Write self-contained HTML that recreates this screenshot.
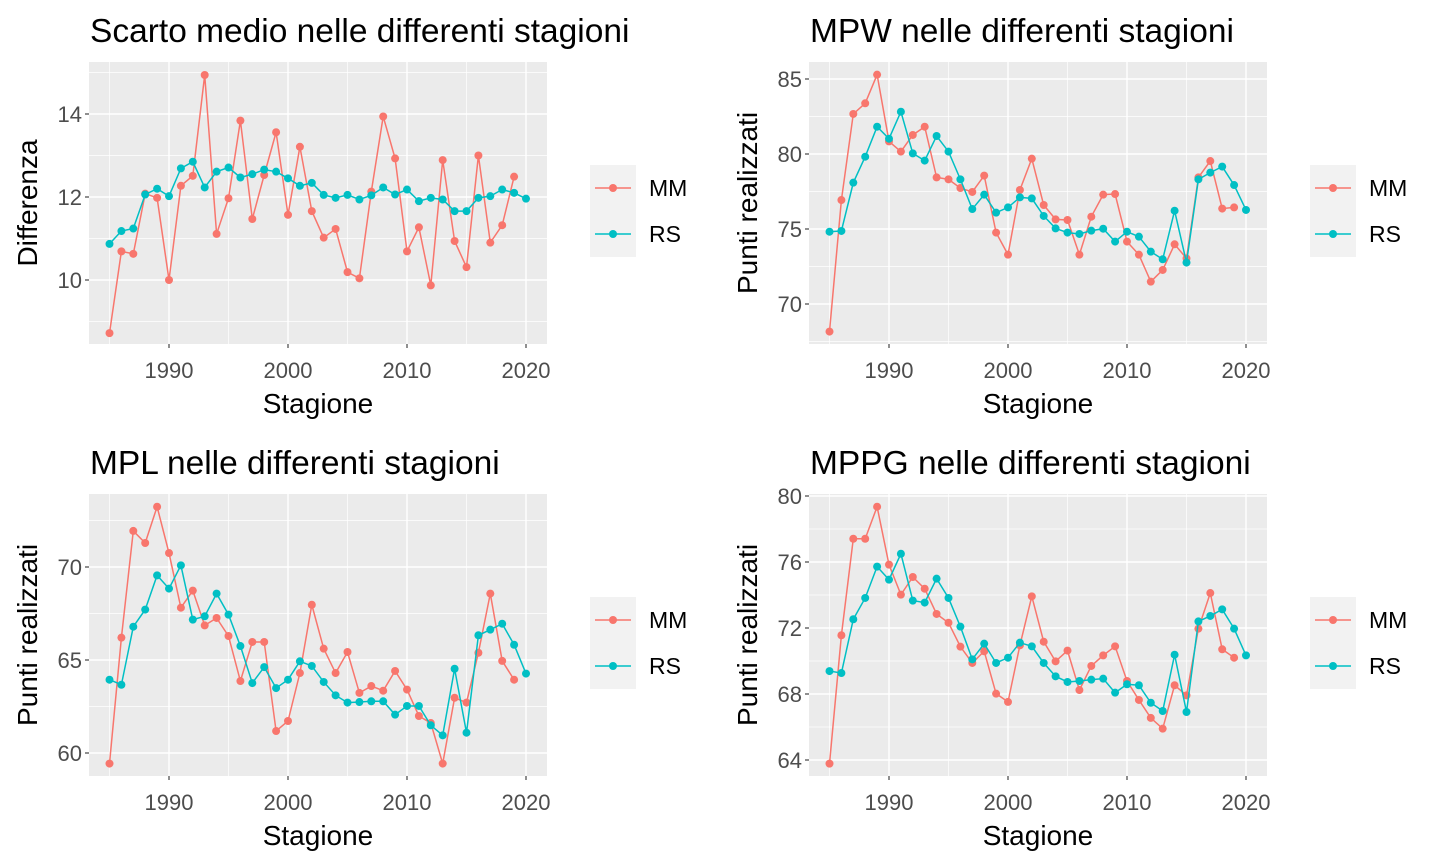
<!DOCTYPE html>
<html><head><meta charset="utf-8"><style>
html,body{margin:0;padding:0;background:#fff;}
svg{display:block;font-family:"Liberation Sans",sans-serif;}
</style></head><body>
<svg id="chart" width="1440" height="864" viewBox="0 0 1440 864"></svg>
<script>
const years = [];
for (let y = 1985; y <= 2020; y++) years.push(y);
const xTicks = [1990, 2000, 2010, 2020];
const seriesNames = ["MM", "RS"];

const scartoMM = [8.72,10.69,10.63,12.08,11.98,10.0,12.27,12.51,14.94,11.11,11.97,13.84,11.47,12.53,13.56,11.57,13.21,11.66,11.02,11.23,10.19,10.04,12.13,13.94,12.93,10.69,11.27,9.87,12.89,10.94,10.31,13.0,10.9,11.32,12.49];
const scartoRS = [10.87,11.18,11.24,12.06,12.2,12.02,12.69,12.85,12.23,12.61,12.71,12.47,12.55,12.66,12.61,12.45,12.27,12.34,12.05,11.98,12.05,11.94,12.04,12.23,12.06,12.18,11.9,11.98,11.94,11.66,11.66,11.98,12.02,12.18,12.1,11.96];
const scartoTicks = [10, 12, 14];

const mpwMM = [68.16,76.93,82.67,83.38,85.29,80.84,80.16,81.27,81.82,78.44,78.31,77.73,77.47,78.56,74.76,73.29,77.6,79.69,76.6,75.64,75.6,73.29,75.82,77.29,77.33,74.16,73.29,71.49,72.27,73.98,73.04,78.44,79.53,76.36,76.44];
const mpwRS = [74.82,74.87,78.09,79.82,81.82,81.02,82.82,80.04,79.56,81.2,80.16,78.31,76.33,77.29,76.09,76.44,77.11,77.04,75.87,75.04,74.76,74.67,74.89,75.02,74.16,74.82,74.49,73.49,72.98,76.22,72.76,78.31,78.76,79.16,77.93,76.27];
const mpwTicks = [70, 75, 80, 85];

const mplMM = [59.43,66.2,71.94,71.29,73.24,70.75,67.81,68.73,66.86,67.26,66.29,63.87,65.97,65.97,61.18,61.72,64.3,67.97,65.61,64.3,65.43,63.23,63.6,63.35,64.41,63.41,61.99,61.61,59.43,62.97,62.71,65.39,68.57,64.95,63.94];
const mplRS = [63.94,63.67,66.79,67.71,69.55,68.84,70.09,67.17,67.35,68.57,67.44,65.75,63.76,64.62,63.49,63.94,64.93,64.68,63.82,63.1,62.71,62.74,62.78,62.78,62.06,62.53,62.53,61.49,60.95,64.53,61.09,66.33,66.63,66.95,65.82,64.27];
const mplTicks = [60, 65, 70];

const mppgMM = [63.78,71.56,77.41,77.41,79.35,75.84,74.02,75.09,74.38,72.85,72.32,70.87,69.88,70.59,68.02,67.52,70.95,73.92,71.17,69.98,70.63,68.24,69.7,70.34,70.89,68.79,67.64,66.55,65.9,68.53,67.92,71.96,74.12,70.71,70.2];
const mppgRS = [69.39,69.27,72.53,73.82,75.72,74.93,76.5,73.66,73.54,74.99,73.82,72.08,70.1,71.05,69.88,70.2,71.11,70.89,69.88,69.07,68.73,68.79,68.87,68.93,68.08,68.59,68.53,67.47,66.97,70.38,66.91,72.4,72.73,73.13,71.96,70.34];
const mppgTicks = [64, 68, 72, 76, 80];

const NS = "http://www.w3.org/2000/svg";
const svg = document.getElementById("chart");
const COLORS = ["#F8766D", "#00BFC4"];
function mk(tag, attrs, parent, txt) {
  const e = document.createElementNS(NS, tag);
  for (const k in attrs) e.setAttribute(k, attrs[k]);
  if (txt !== undefined) e.textContent = txt;
  (parent || svg).appendChild(e);
  return e;
}

function panel(cfg) {
  const g = mk("g", {});
  
  
  const X = v => cfg.x0 + (v - 1990) * 11.9;
  const Y = v => cfg.yRef - (v - cfg.vRef) * cfg.k;
  const L = cfg.x0 - 80, R = L + 458, T = cfg.top, B = cfg.top + 282;
  const bg = mk("rect", {x: L, y: T, width: R - L, height: B - T, fill: "#EBEBEB"}, g);
  
  
  const step = cfg.ticks[1] - cfg.ticks[0];
  const yMinorList = [];
  for (let i = -1; i < cfg.ticks.length; i++) yMinorList.push(cfg.ticks[0] + step * (i + 0.5));
  yMinorList.forEach(v => { const p = Y(v); if (p > T && p < B) mk("line", {x1: L, x2: R, y1: p, y2: p, stroke: "#fff", "stroke-width": 0.7}, g); });
  [1985, 1995, 2005, 2015].forEach(v => mk("line", {x1: X(v), x2: X(v), y1: T, y2: B, stroke: "#fff", "stroke-width": 0.7}, g));
  cfg.ticks.forEach(v => {
    const p = Y(v);
    mk("line", {x1: L, x2: R, y1: p, y2: p, stroke: "#fff", "stroke-width": 1.4}, g);
    mk("line", {x1: L - 4, x2: L, y1: p, y2: p, stroke: "#333", "stroke-width": 1.1}, g);
    const t = mk("text", {x: L - 7, y: p + 8, "text-anchor": "end", "font-size": 22, fill: "#4D4D4D"}, g, v);
    
    
  });
  xTicks.forEach(v => {
    const p = X(v);
    mk("line", {x1: p, x2: p, y1: T, y2: B, stroke: "#fff", "stroke-width": 1.4}, g);
    mk("line", {x1: p, x2: p, y1: B, y2: B + 4, stroke: "#333", "stroke-width": 1.1}, g);
    const t = mk("text", {x: p, y: B + 34, "text-anchor": "middle", "font-size": 22, fill: "#4D4D4D"}, g, v);
    
    
  });
  [cfg.mm, cfg.rs].forEach((arr, si) => {
    const pts = arr.map((v, i) => X(years[i]) + "," + Y(v)).join(" ");
    const pl = mk("polyline", {points: pts, fill: "none", stroke: COLORS[si], "stroke-width": 1.5}, g);
    
    
    arr.forEach((v, i) => {
      const c = mk("circle", {cx: X(years[i]), cy: Y(v), r: 4, fill: COLORS[si]}, g);
      
      
    });
  });
  const title = mk("text", {x: L + 1, y: T - 20, "font-size": 33.5, fill: "#000"}, g, cfg.title);
  
  
  const xt = mk("text", {x: (L + R) / 2, y: B + 69, "text-anchor": "middle", "font-size": 28, fill: "#000"}, g, "Stagione");
  
  
  const yc = (T + B) / 2;
  const yt = mk("text", {x: 0, y: 0, transform: `translate(${L - 52},${yc}) rotate(-90)`, "text-anchor": "middle", "font-size": 28, fill: "#000"}, g, cfg.ytitle);
  
  
  const lg = mk("g", {}, g);
  
  
  const lx = L + 501, ly = T + 103;
  mk("rect", {x: lx, y: ly, width: 46, height: 92, fill: "#F2F2F2"}, lg);
  seriesNames.forEach((n, i) => {
    const cy = ly + 23 + i * 46;
    const e = mk("g", {}, lg);
    
    
    mk("line", {x1: lx + 5, x2: lx + 41, y1: cy, y2: cy, stroke: COLORS[i], "stroke-width": 1.5}, e);
    mk("circle", {cx: lx + 23, cy: cy, r: 4, fill: COLORS[i]}, e);
    mk("text", {x: lx + 59, y: cy + 8, "font-size": 23, fill: "#000"}, e, n);
  });
}

panel({name: "panel-scarto", title: "Scarto medio nelle differenti stagioni", ytitle: "Differenza", x0: 169, top: 62, yRef: 197, vRef: 12, k: 41.5, ticks: scartoTicks, mm: scartoMM, rs: scartoRS});
panel({name: "panel-mpw", title: "MPW nelle differenti stagioni", ytitle: "Punti realizzati", x0: 889, top: 62, yRef: 154, vRef: 80, k: 15, ticks: mpwTicks, mm: mpwMM, rs: mpwRS});
panel({name: "panel-mpl", title: "MPL nelle differenti stagioni", ytitle: "Punti realizzati", x0: 169, top: 494, yRef: 660, vRef: 65, k: 18.6, ticks: mplTicks, mm: mplMM, rs: mplRS});
panel({name: "panel-mppg", title: "MPPG nelle differenti stagioni", ytitle: "Punti realizzati", x0: 889, top: 494, yRef: 628, vRef: 72, k: 16.5, ticks: mppgTicks, mm: mppgMM, rs: mppgRS});
</script>
</body></html>
